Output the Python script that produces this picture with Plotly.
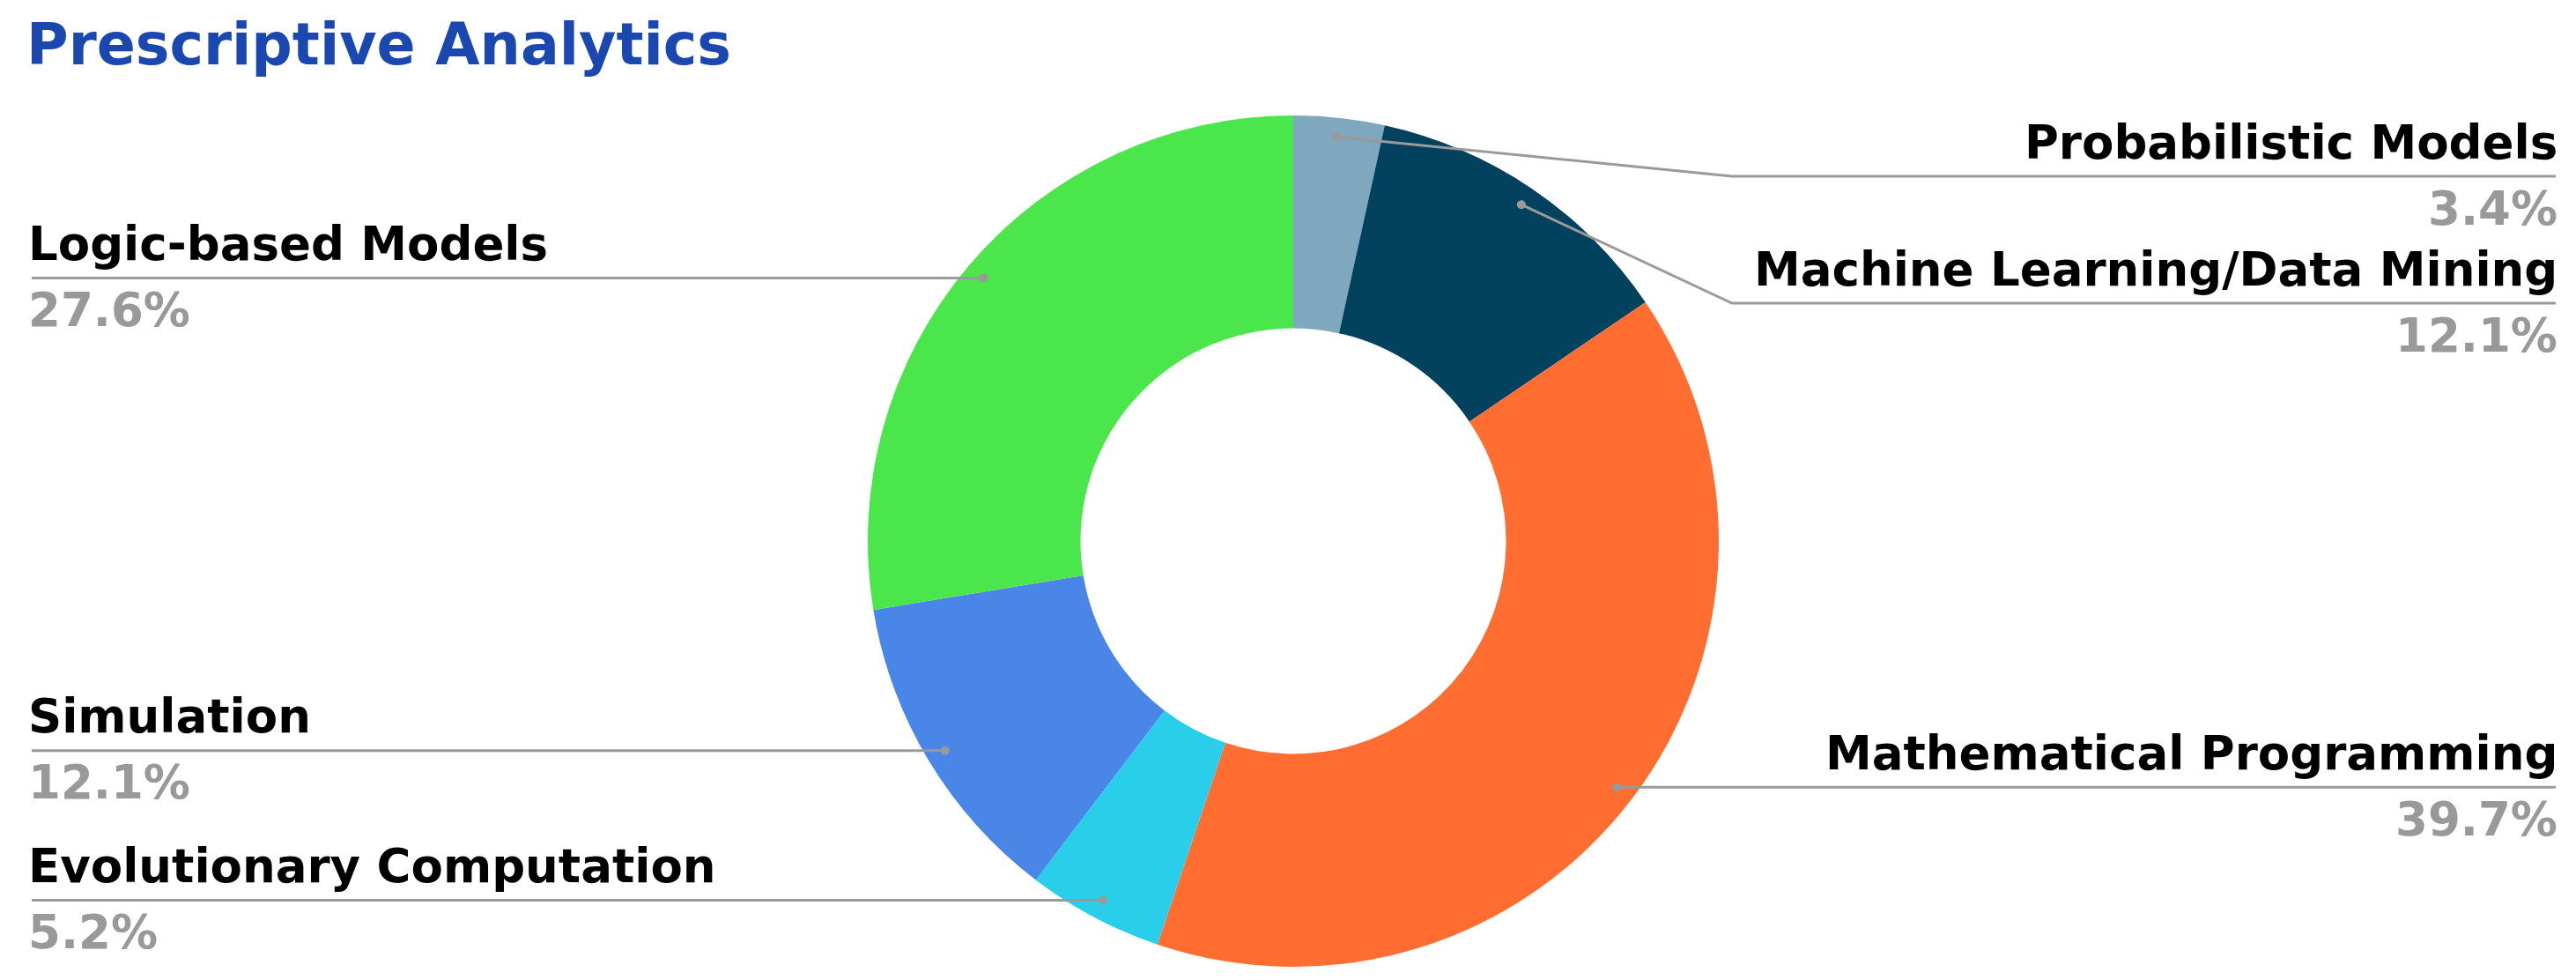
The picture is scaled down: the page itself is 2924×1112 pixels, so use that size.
import math
import plotly.graph_objects as go

# Datos (conteos; los % salen de aqui)
labels = ["Probabilistic Models", "Machine Learning/Data Mining", "Mathematical Programming",
          "Evolutionary Computation", "Simulation", "Logic-based Models"]
values = [2, 7, 23, 3, 7, 16]
colors = ["#7FA8BF", "#02425E", "#FF6D31", "#29CFEA", "#4A86E8", "#4AE64B"]

# lado de la etiqueta y fila fija (None = a la altura del punto)
sides = ["right", "right", "right", "left", "left", "left"]
rows = [192, 336, None, None, None, None]

W, H = 2924, 1112
cx, cy, R = 1460, 606, 483
r_dot = 0.955 * R
x_left, x_right, x_bend = 28, 2893, 1958
font = "DejaVu Sans, Arial, sans-serif"

fig = go.Figure()
fig.add_trace(go.Pie(labels=labels, values=values, hole=0.5, sort=False, direction="clockwise",
                     rotation=0, marker=dict(colors=colors, line=dict(width=0)), textinfo="none",
                     hoverinfo="label+percent", showlegend=False,
                     domain=dict(x=[(cx - R) / W, (cx + R) / W], y=[1 - (cy + R) / H, 1 - (cy - R) / H])))

total = sum(values)
cum = 0
shapes = []
annots = []
for lab, v, side, row in zip(labels, values, sides, rows):
    mid = (cum + v / 2) / total
    cum += v
    th = 2 * math.pi * mid
    dx, dy = cx + r_dot * math.sin(th), cy - r_dot * math.cos(th)
    ly = dy if row is None else row
    if side == "left":
        path = f"M {x_left},{ly} L {dx},{dy}"
        tx, anchor = x_left - 6, "left"
    elif row is None:
        path = f"M {x_right},{ly} L {dx},{dy}"
        tx, anchor = x_right + 4, "right"
    else:
        path = f"M {x_right},{ly} L {x_bend},{ly} L {dx},{dy}"
        tx, anchor = x_right + 4, "right"
    shapes.append(dict(type="path", path=path, xref="x", yref="y", layer="above",
                       line=dict(color="#9a9a9a", width=3)))
    shapes.append(dict(type="circle", xref="x", yref="y", x0=dx - 5, x1=dx + 5, y0=dy - 5, y1=dy + 5,
                       layer="above", fillcolor="#999999", line=dict(width=0)))
    annots.append(dict(x=tx, y=ly - 39, xref="x", yref="y", text=lab, showarrow=False, xanchor=anchor,
                       yanchor="middle", font=dict(family=font, size=53, color="black", weight="bold")))
    annots.append(dict(x=tx, y=ly + 36, xref="x", yref="y", text=f"{100 * v / total:.1f}%", showarrow=False,
                       xanchor=anchor, yanchor="middle",
                       font=dict(family=font, size=53, color="#999999", weight="bold")))

annots.append(dict(x=x_left - 8, y=42, xref="x", yref="y", text="Prescriptive Analytics", showarrow=False,
                   xanchor="left", yanchor="middle", font=dict(family=font, size=65, color="#1A47B0", weight="bold")))

fig.update_xaxes(range=[0, W], visible=False, fixedrange=True)
fig.update_yaxes(range=[H, 0], visible=False, fixedrange=True)
fig.update_layout(width=W, height=H, margin=dict(l=0, r=0, t=0, b=0), paper_bgcolor="white",
                  plot_bgcolor="white", shapes=shapes, annotations=annots)
fig.write_html("out.html")
